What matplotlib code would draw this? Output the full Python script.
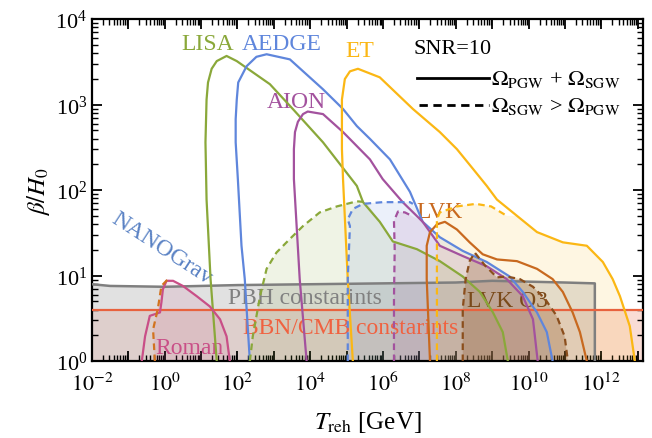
import matplotlib
matplotlib.use("Agg")
import matplotlib.pyplot as plt
from matplotlib.ticker import LogLocator, FuncFormatter, NullFormatter
import numpy as np

plt.rcParams['font.family'] = ['Liberation Serif', 'DejaVu Serif']
plt.rcParams['mathtext.fontset'] = 'stix'

# Data (log10 T_reh [GeV], log10 beta/H0)

# solid curves: Omega_PGW + Omega_SGW, SNR = 10
lisa_x = [1.43, 1.26, 1.15, 1.12, 1.15, 1.19, 1.29, 1.43, 1.70, 1.98, 2.89, 3.52, 4.35,
          5.28, 5.45, 5.91, 6.27, 6.93, 7.56, 8.19, 8.66, 9.02, 9.29, 9.43]
lisa_y = [0.00, 0.96, 1.89, 2.56, 3.06, 3.26, 3.42, 3.51, 3.57, 3.51, 3.24, 2.95, 2.56,
          2.05, 1.86, 1.63, 1.40, 1.31, 1.17, 0.99, 0.81, 0.57, 0.34, 0.00]

aedge_x = [2.34, 2.20, 2.11, 2.01, 1.95, 1.95, 1.98, 2.02, 2.25, 2.52, 2.80, 3.44, 4.35,
           4.90, 5.28, 5.64, 6.19, 6.74, 7.09, 7.56, 8.19, 8.85, 9.48, 9.84, 10.23,
           10.50, 10.66]
aedge_y = [0.00, 0.96, 1.35, 2.13, 2.56, 2.83, 3.06, 3.26, 3.45, 3.56, 3.59, 3.53, 3.18,
           2.95, 2.75, 2.60, 2.36, 1.98, 1.63, 1.45, 1.29, 1.16, 0.99, 0.81, 0.57,
           0.34, 0.00]

aion_x = [3.90, 3.71, 3.55, 3.55, 3.58, 3.66, 3.80, 3.93, 4.35, 4.90, 5.64, 5.99, 6.54,
          7.09, 7.56, 8.19, 8.85, 9.40, 9.84, 10.12, 10.25]
aion_y = [0.00, 0.96, 2.13, 2.48, 2.68, 2.80, 2.89, 2.92, 2.89, 2.68, 2.36, 2.13, 1.86,
          1.63, 1.35, 1.23, 1.11, 0.96, 0.76, 0.49, 0.00]

et_x = [5.17, 5.03, 4.90, 4.87, 4.87, 4.95, 5.09, 5.31, 5.91, 6.82, 7.56, 8.03, 8.47,
        8.85, 9.13, 9.68, 10.23, 10.94, 11.60, 12.04, 12.31, 12.51, 12.78, 12.92]
et_y = [0.00, 0.96, 2.13, 2.48, 3.06, 3.30, 3.39, 3.42, 3.32, 2.95, 2.68, 2.48, 2.25,
        2.05, 1.89, 1.70, 1.51, 1.39, 1.35, 1.16, 0.96, 0.76, 0.41, 0.00]

lvk_x = [7.29, 7.20, 7.20, 7.29, 7.48, 7.70, 8.03, 8.38, 8.74, 9.13, 9.68, 10.23, 10.66,
         10.94, 11.21, 11.41, 11.60]
lvk_y = [0.00, 0.96, 1.35, 1.51, 1.60, 1.63, 1.54, 1.39, 1.25, 1.19, 1.17, 1.08, 0.96,
         0.81, 0.57, 0.34, 0.00]

roman_x = [-0.63, -0.54, -0.41, -0.13, -0.09, -0.05, 0.05, 0.23, 0.50, 0.88, 1.24, 1.52,
           1.70, 1.79]
roman_y = [0.00, 0.29, 0.53, 0.57, 0.69, 0.84, 0.94, 0.94, 0.88, 0.76, 0.64, 0.49,
           0.29, 0.00]

# dashed curves: Omega_SGW > Omega_PGW
lisa_d_x = [2.34, 2.42, 2.62, 2.80, 3.07, 3.44, 3.80, 4.26, 4.73, 5.28, 5.55]
lisa_d_y = [0.00, 0.29, 0.76, 1.08, 1.27, 1.43, 1.58, 1.74, 1.81, 1.87, 1.86]

aedge_d_x = [5.03, 5.03, 5.09, 5.03, 5.17, 5.45, 5.99, 6.74, 6.82]
aedge_d_y = [0.00, 0.96, 1.58, 1.66, 1.78, 1.84, 1.86, 1.86, 1.84]

aion_d_x = [6.30, 6.30, 6.32, 6.30, 6.41, 6.60, 6.79]
aion_d_y = [0.00, 0.73, 1.31, 1.64, 1.75, 1.74, 1.70]

et_d_x = [7.48, 7.48, 7.48, 7.56, 8.03, 8.55, 8.97, 9.40]
et_d_y = [0.00, 0.96, 1.66, 1.74, 1.81, 1.84, 1.81, 1.70]

roman_d_x = [-0.27, -0.32, -0.19, -0.09, 0.09]
roman_d_y = [0.00, 0.37, 0.61, 0.88, 0.96]

o3_x = [8.19, 8.19, 8.27, 8.38, 8.52, 8.80, 9.13, 9.40, 9.76, 10.12, 10.45, 10.77,
        10.99, 11.08]
o3_y = [0.00, 0.61, 0.96, 1.17, 1.27, 1.12, 0.98, 0.99, 0.96, 0.87, 0.73, 0.53,
        0.29, 0.00]

# constraints
pbh_x = [-2.0, -1.5, 0.0, 1.0, 2.0, 4.0, 6.0, 8.0, 9.0, 10.0, 11.0, 11.82, 11.82]
pbh_y = [0.90, 0.88, 0.87, 0.88, 0.89, 0.90, 0.91, 0.92, 0.94, 0.93, 0.92, 0.91, 0.00]
bbn_level = 4.0

c_lisa = "#8aa83a"
c_aedge = "#5f86dc"
c_aion = "#a3529e"
c_et = "#fbb714"
c_lvk = "#c8691f"
c_o3 = "#8b4e1c"
c_roman = "#c94f87"
c_roman_d = "#d2731f"


def p(v):
    return 10 ** np.asarray(v)


def region(dx, dy, sx, sy):
    # dashed boundary, then the solid curve down to the axis
    ip = int(np.argmax(sy))
    tail = [(a, b) for a, b in zip(sx[ip:], sy[ip:]) if a > dx[-1]]
    xs = list(dx) + [t[0] for t in tail]
    ys = list(dy) + [t[1] for t in tail]
    return p(xs), p(ys)


fig = plt.figure(figsize=(6.52, 4.39), dpi=100)
ax = fig.add_axes([0.141, 0.175, 0.845, 0.779])
ax.set_xscale('log')
ax.set_yscale('log')
xmin, xmax = 1e-2, 10 ** 13.14
ax.set_xlim(xmin, xmax)
ax.set_ylim(1, 1e4)

# constraint regions
ax.fill_between([xmin, xmax], 1, bbn_level, color="#f0a898", alpha=0.4, lw=0, zorder=1)
ax.fill(p(pbh_x + [-2.0]), p(pbh_y + [0.0]), color="#c4c4c4", alpha=0.5, lw=0, zorder=1)

# signal regions
for dx, dy, sx, sy, c, a in [
        (lisa_d_x, lisa_d_y, lisa_x, lisa_y, c_lisa, 0.13),
        (aedge_d_x, aedge_d_y, aedge_x, aedge_y, c_aedge, 0.12),
        (aion_d_x, aion_d_y, aion_x, aion_y, c_aion, 0.12),
        (et_d_x, et_d_y, et_x, et_y, c_et, 0.12),
        (roman_d_x, roman_d_y, roman_x, roman_y, c_roman, 0.12)]:
    fx, fy = region(dx, dy, sx, sy)
    ax.fill(fx, fy, color=c, alpha=a, lw=0, zorder=2)
ax.fill(p(o3_x), p(o3_y), color=c_o3, alpha=0.25, lw=0, zorder=2)

lw = 1.6
ax.plot(p(pbh_x), p(pbh_y), color="#7f7f7f", lw=1.8, zorder=3)
ax.axhline(bbn_level, color="#e8623e", lw=1.6, zorder=3)

for x, y, c in [(lisa_x, lisa_y, c_lisa), (aedge_x, aedge_y, c_aedge),
                (aion_x, aion_y, c_aion), (et_x, et_y, c_et),
                (lvk_x, lvk_y, c_lvk), (roman_x, roman_y, c_roman)]:
    ax.plot(p(x), p(y), color=c, lw=lw, zorder=4)

dash = (3, 2)
for x, y, c in [(lisa_d_x, lisa_d_y, c_lisa), (aedge_d_x, aedge_d_y, c_aedge),
                (aion_d_x, aion_d_y, c_aion), (et_d_x, et_d_y, c_et),
                (roman_d_x, roman_d_y, c_roman_d), (o3_x, o3_y, c_o3)]:
    ax.plot(p(x), p(y), color=c, lw=lw, ls=(0, dash), zorder=4)

# labels
fs = 17
ax.text(p(1.19), p(3.71), "LISA", color=c_lisa, fontsize=fs, ha='center', va='center')
ax.text(p(3.22), p(3.72), "AEDGE", color=c_aedge, fontsize=fs, ha='center', va='center')
ax.text(p(3.63), p(3.04), "AION", color=c_aion, fontsize=fs, ha='center', va='center')
ax.text(p(5.36), p(3.63), "ET", color=c_et, fontsize=fs, ha='center', va='center')
ax.text(p(7.56), p(1.75), "LVK", color=c_lvk, fontsize=fs, ha='center', va='center')
ax.text(p(9.43), p(0.71), "LVK O3", color="#7a4a1a", fontsize=fs, ha='center', va='center')
ax.text(p(0.69), p(0.16), "Roman", color=c_roman, fontsize=fs, ha='center', va='center')
ax.text(p(-0.09), p(1.33), "NANOGrav", color="#5a82c4", fontsize=fs, ha='center',
        va='center', rotation=-33)
ax.text(p(3.85), p(0.74), "PBH constarints", color="#808080", fontsize=fs,
        ha='center', va='center')
ax.text(p(5.12), p(0.39), "BBN/CMB constarints", color="#f06240", fontsize=fs,
        ha='center', va='center')

# legend
ax.text(0.655, 0.915, "SNR=10", transform=ax.transAxes, fontsize=16,
        ha='center', va='center')
ax.plot([0.59, 0.72], [0.827, 0.827], transform=ax.transAxes, color='k', lw=2)
ax.text(0.724, 0.827, r"$\Omega_{\rm PGW}$ + $\Omega_{\rm SGW}$", transform=ax.transAxes,
        fontsize=16, ha='left', va='center')
ax.plot([0.594, 0.72], [0.749, 0.749], transform=ax.transAxes, color='k', lw=2,
        ls=(0, (3, 2)))
ax.text(0.724, 0.749, r"$\Omega_{\rm SGW}$ > $\Omega_{\rm PGW}$", transform=ax.transAxes,
        fontsize=16, ha='left', va='center')

# axes styling
ax.set_xlabel(r"$T_{\rm reh}$ [GeV]", fontsize=18, labelpad=10)
ax.set_ylabel(r"$\beta/H_0$", fontsize=18, labelpad=2)

ax.xaxis.set_major_locator(LogLocator(base=10, numticks=30))
ax.xaxis.set_minor_locator(LogLocator(base=10, subs=np.arange(2, 10), numticks=300))
ax.xaxis.set_major_formatter(FuncFormatter(
    lambda v, pos: r"$10^{%d}$" % round(np.log10(v)) if round(np.log10(v)) % 2 == 0 else ""))
ax.xaxis.set_minor_formatter(NullFormatter())
ax.yaxis.set_major_locator(LogLocator(base=10, numticks=10))
ax.yaxis.set_minor_locator(LogLocator(base=10, subs=np.arange(2, 10), numticks=100))
ax.yaxis.set_minor_formatter(NullFormatter())

ax.tick_params(which='both', direction='in', top=True, right=True, labelsize=16)
ax.tick_params(axis='x', which='major', pad=8)
ax.tick_params(which='major', length=7, width=1.3)
ax.tick_params(which='minor', length=4, width=1.0)
for s in ax.spines.values():
    s.set_linewidth(1.6)

fig.savefig("out.png", dpi=100)
